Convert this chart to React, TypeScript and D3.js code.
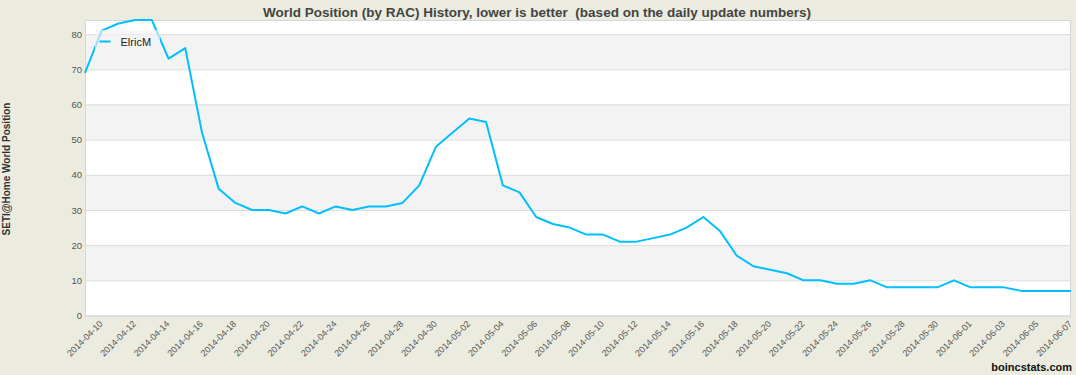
import React, { useEffect, useRef } from "react";
import * as d3 from "d3";

// daily world position (RAC), one value per day starting at startDay
const startDay = "2014-04-09";
const positions = [
  69, 81, 83, 84, 84, 73, 76, 52, 36, 32,
  30, 30, 29, 31, 29, 31, 30, 31, 31, 32,
  37, 48, 52, 56, 55, 37, 35, 28, 26, 25,
  23, 23, 21, 21, 22, 23, 25, 28, 24, 17,
  14, 13, 12, 10, 10, 9, 9, 10, 8, 8,
  8, 8, 10, 8, 8, 8, 7, 7, 7, 7,
];
const yTicks = [0, 10, 20, 30, 40, 50, 60, 70, 80];
const seriesName = "ElricM";
const chartTitle =
  "World Position (by RAC) History, lower is better  (based on the daily update numbers)";
const yTitle = "SETI@Home World Position";

const W = 1076;
const H = 375;
const margin = { left: 85, right: 5, top: 20, bottom: 59.5 };

const App: React.FC = () => {
  const svgRef = useRef<SVGSVGElement | null>(null);

  useEffect(() => {
    document.body.style.margin = "0";
    if (!svgRef.current) return;
    const svg = d3.select(svgRef.current);
    svg.selectAll("*").remove();

    const parse = d3.timeParse("%Y-%m-%d");
    const fmt = d3.timeFormat("%Y-%m-%d");
    const start = parse(startDay) as Date;
    const data = positions.map((v, i) => ({
      date: d3.timeDay.offset(start, i),
      value: v,
    }));
    const tickDates = data.filter((_, i) => i % 2 === 1).map((d) => d.date);

    const x = d3
      .scaleTime()
      .domain(d3.extent(data, (d) => d.date) as [Date, Date])
      .range([margin.left, W - margin.right]);
    const y = d3
      .scaleLinear()
      .domain([0, d3.max(positions) as number])
      .range([H - margin.bottom, margin.top]);

    svg
      .append("rect")
      .attr("width", W)
      .attr("height", H)
      .attr("fill", "#ebebdf");

    const x0 = margin.left;
    const x1 = W - margin.right;
    const pw = x1 - x0;

    svg
      .append("rect")
      .attr("x", x0)
      .attr("y", margin.top)
      .attr("width", pw)
      .attr("height", y(0) - margin.top)
      .attr("fill", "#fff");

    // alternating bands
    yTicks.forEach((t, i) => {
      if (i % 2 === 1) {
        const top = Math.max(y(t + 10), margin.top);
        svg
          .append("rect")
          .attr("x", x0)
          .attr("y", top)
          .attr("width", pw)
          .attr("height", y(t) - top)
          .attr("fill", "#f3f3f3");
      }
    });

    // gridlines + y labels
    const yAxis = d3
      .axisLeft(y)
      .tickValues(yTicks)
      .tickSize(-pw)
      .tickPadding(3)
      .tickFormat((d) => `${d}`);
    const gy = svg
      .append("g")
      .attr("transform", `translate(${x0},0)`)
      .call(yAxis);
    gy.select(".domain").remove();
    gy.selectAll(".tick line").attr("stroke", "#dcdcdc").attr("stroke-width", 1);
    gy.selectAll(".tick text")
      .attr("fill", "#555")
      .attr("font-size", 9.5)
      .attr("font-family", "Liberation Sans, Arial, sans-serif");

    // plot frame
    svg
      .append("rect")
      .attr("x", x0 + 0.5)
      .attr("y", margin.top + 0.5)
      .attr("width", pw - 1)
      .attr("height", y(0) - margin.top)
      .attr("fill", "none")
      .attr("stroke", "#d6d6d6");

    // x labels
    const xAxis = d3
      .axisBottom(x)
      .tickValues(tickDates)
      .tickSize(0)
      .tickFormat((d) => fmt(d as Date));
    const gx = svg
      .append("g")
      .attr("transform", `translate(0,${y(0)})`)
      .call(xAxis);
    gx.select(".domain").remove();
    gx.selectAll(".tick text")
      .attr("fill", "#555")
      .attr("font-size", 9)
      .attr("font-family", "Liberation Sans, Arial, sans-serif")
      .attr("text-anchor", "end")
      .attr("dy", null)
      .attr("y", null)
      .attr("transform", "translate(1,9) rotate(-45)");

    const line = d3
      .line<{ date: Date; value: number }>()
      .x((d) => x(d.date))
      .y((d) => y(d.value));

    svg
      .append("path")
      .datum(data)
      .attr("d", line)
      .attr("fill", "none")
      .attr("stroke", "#00bfff")
      .attr("stroke-width", 2)
      .attr("stroke-linejoin", "round");

    // legend (drawn over the line, semi-transparent)
    const lg = svg.append("g").attr("transform", "translate(95,30)");
    lg.append("rect")
      .attr("width", 65)
      .attr("height", 21)
      .attr("fill", "#f2f2f2")
      .attr("fill-opacity", 0.65);
    lg.append("line")
      .attr("x1", 4.5)
      .attr("x2", 15.5)
      .attr("y1", 11.5)
      .attr("y2", 11.5)
      .attr("stroke", "#00bfff")
      .attr("stroke-width", 2);
    lg.append("text")
      .attr("x", 25.5)
      .attr("y", 15.5)
      .attr("font-size", 11)
      .attr("font-family", "Liberation Sans, Arial, sans-serif")
      .attr("fill", "#222")
      .text(seriesName);

    svg
      .append("text")
      .attr("x", 537)
      .attr("y", 17)
      .attr("text-anchor", "middle")
      .attr("font-size", 13.5)
      .attr("font-weight", "bold")
      .attr("font-family", "Liberation Sans, Arial, sans-serif")
      .attr("fill", "#444")
      .style("white-space", "pre")
      .text(chartTitle);

    svg
      .append("text")
      .attr("transform", "translate(10,169) rotate(-90)")
      .attr("text-anchor", "middle")
      .attr("font-size", 10)
      .attr("font-weight", "bold")
      .attr("font-family", "Liberation Sans, Arial, sans-serif")
      .attr("fill", "#333")
      .text(yTitle);

    svg
      .append("text")
      .attr("x", 1072)
      .attr("y", 371)
      .attr("text-anchor", "end")
      .attr("font-size", 11)
      .attr("font-weight", "bold")
      .attr("font-family", "Liberation Sans, Arial, sans-serif")
      .attr("fill", "#111")
      .text("boincstats.com");
  }, []);

  return (
    <div style={{ width: W, height: H }}>
      <svg ref={svgRef} width={W} height={H} style={{ display: "block" }} />
    </div>
  );
};

export default App;
